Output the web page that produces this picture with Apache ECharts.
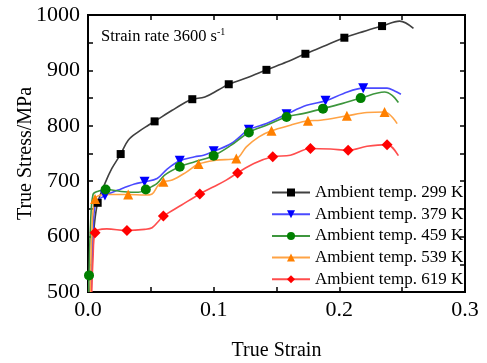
<!DOCTYPE html>
<html>
<head>
<meta charset="utf-8">
<script src="https://cdn.jsdelivr.net/npm/echarts@6/dist/echarts.min.js"></script>
<style>
  html, body { margin: 0; padding: 0; background: #fff; }
  #chart { width: 487px; height: 363px; }
</style>
</head>
<body>
<div id="chart"></div>
<script>
// curves: [strain, stress]; marks = indices that carry a symbol
const names = [
  'Ambient temp. 299 K',
  'Ambient temp. 379 K',
  'Ambient temp. 459 K',
  'Ambient temp. 539 K',
  'Ambient temp. 619 K'
]
const curve299 = [
  [0.0015, 500], [0.003, 560], [0.005, 620], [0.0077, 661], [0.0135, 696], [0.019, 723],
  [0.026, 749], [0.032, 774], [0.040, 789], [0.048, 801], [0.053, 808], [0.067, 828],
  [0.078, 843], [0.083, 848], [0.093, 852], [0.104, 865], [0.112, 875], [0.127, 887],
  [0.142, 901], [0.158, 915], [0.173, 930], [0.187, 943], [0.204, 959], [0.219, 970],
  [0.234, 980], [0.248, 989], [0.259, 976]
]
const marks299 = [3, 6, 10, 13, 16, 18, 20, 22, 24]
const curve379 = [
  [0.0025, 500], [0.004, 600], [0.006, 660], [0.0135, 674], [0.024, 684], [0.037, 695],
  [0.045, 699], [0.055, 705], [0.063, 722], [0.073, 737], [0.085, 744], [0.092, 747],
  [0.100, 754], [0.114, 768], [0.128, 793], [0.142, 804], [0.158, 821], [0.174, 837],
  [0.189, 845], [0.203, 858], [0.219, 868], [0.238, 868], [0.244, 863], [0.249, 857]
]
const marks379 = [3, 6, 9, 12, 14, 16, 18, 20]
const curve459 = [
  [0.0005, 500], [0.0008, 530], [0.002, 620], [0.004, 676], [0.008, 682], [0.014, 685],
  [0.029, 681], [0.040, 680], [0.046, 685], [0.055, 696], [0.061, 711], [0.073, 726],
  [0.085, 735], [0.100, 746], [0.114, 765], [0.128, 788], [0.142, 801], [0.158, 816],
  [0.171, 822], [0.187, 831], [0.202, 840], [0.217, 850], [0.236, 861], [0.242, 855],
  [0.247, 842]
]
const marks459 = [1, 5, 8, 11, 13, 15, 17, 19, 21]
const curve539 = [
  [0.002, 500], [0.003, 600], [0.0056, 668], [0.015, 676], [0.032, 676], [0.045, 675],
  [0.051, 677], [0.056, 693], [0.060, 699], [0.067, 702], [0.078, 716], [0.088, 731],
  [0.102, 738], [0.118, 741], [0.126, 762], [0.136, 780], [0.146, 791], [0.161, 801],
  [0.175, 809], [0.185, 810], [0.206, 818], [0.222, 824], [0.236, 825], [0.246, 804]
]
const marks539 = [2, 4, 8, 11, 13, 16, 18, 20, 22]
const curve619 = [
  [0.003, 500], [0.004, 560], [0.0056, 607], [0.015, 614], [0.031, 611], [0.045, 613],
  [0.051, 616], [0.057, 630], [0.060, 637], [0.0745, 657], [0.089, 677], [0.100, 690],
  [0.110, 702], [0.119, 715], [0.132, 732], [0.147, 744], [0.161, 747], [0.177, 759],
  [0.193, 758], [0.207, 756], [0.222, 763], [0.238, 766], [0.247, 746]
]
const marks619 = [2, 4, 8, 10, 13, 15, 17, 19, 21]

// axis ranges: min, max, tick step (labels only every other tick)
const xTicks = [0, 0.3, 0.05]
const yTicks = [500, 1000, 50]

const serif = '"Liberation Serif", "DejaVu Serif", serif'

function withMarks (pts, marks) {
  return pts.map((p, i) => marks.includes(i) ? { value: p } : { value: p, symbol: 'none' })
}

function makeSeries (name, pts, marks, lineColor, markColor, symbol, size, rotate) {
  return {
    name: name,
    type: 'line',
    smooth: 0.35,
    showAllSymbol: true,
    symbol: symbol,
    symbolSize: size,
    symbolRotate: rotate || 0,
    lineStyle: { color: lineColor, width: 1.6 },
    itemStyle: { color: markColor },
    emphasis: { disabled: true },
    data: withMarks(pts, marks)
  }
}

const chart = echarts.init(document.getElementById('chart'))

const lineBlack = { show: true, onZero: false, lineStyle: { color: '#000', width: 2 } }
const tickIn = { show: true, inside: true, length: 5, lineStyle: { color: '#000', width: 1.5 } }

const option = {
  animation: false,
  backgroundColor: '#fff',
  textStyle: { fontFamily: serif },
  grid: {
    left: 88, right: 22, top: 15, bottom: 71,
    outerBoundsMode: 'none',
    containLabel: false,
    show: true,
    borderWidth: 2,
    borderColor: '#000'
  },
  graphic: [{
    type: 'text',
    left: 101,
    top: 27,
    style: {
      text: '{a|Strain rate 3600 s}{b|-1}',
      rich: {
        a: { fontFamily: serif, fontSize: 16.5, fill: '#000', verticalAlign: 'bottom' },
        b: { fontFamily: serif, fontSize: 10, fill: '#000', padding: [0, 0, 8, 0], verticalAlign: 'bottom' }
      }
    }
  }],
  legend: {
    orient: 'vertical',
    left: 266,
    top: 179,
    itemWidth: 38,
    itemHeight: 10,
    itemGap: 4.7,
    textStyle: { fontFamily: serif, fontSize: 17, color: '#000', lineHeight: 17 },
    data: names
  },
  xAxis: [{
    type: 'value',
    min: xTicks[0],
    max: xTicks[1],
    interval: xTicks[2],
    name: 'True Strain',
    nameLocation: 'middle',
    nameGap: 49,
    nameMoveOverlap: false,
    nameTextStyle: { fontFamily: serif, fontSize: 20, color: '#000' },
    axisLine: lineBlack,
    axisTick: tickIn,
    splitLine: { show: false },
    axisLabel: {
      fontFamily: serif, fontSize: 22, color: '#000', margin: 7,
      formatter: v => (Math.round(v * 100) % 10 === 0 ? v.toFixed(1) : '')
    }
  }, {
    type: 'value',
    position: 'top',
    min: xTicks[0],
    max: xTicks[1],
    interval: xTicks[2],
    nameMoveOverlap: false,
    axisLine: lineBlack,
    axisTick: tickIn,
    splitLine: { show: false },
    axisLabel: { show: false }
  }],
  yAxis: [{
    type: 'value',
    min: yTicks[0],
    max: yTicks[1],
    interval: yTicks[2],
    name: 'True Stress/MPa',
    nameLocation: 'middle',
    nameGap: 52,
    nameMoveOverlap: false,
    nameTextStyle: { fontFamily: serif, fontSize: 20, color: '#000' },
    axisLine: lineBlack,
    axisTick: tickIn,
    splitLine: { show: false },
    axisLabel: {
      fontFamily: serif, fontSize: 22, color: '#000', margin: 8,
      formatter: v => (v % 100 === 0 ? String(v) : '')
    }
  }, {
    type: 'value',
    position: 'right',
    min: yTicks[0],
    max: yTicks[1],
    interval: yTicks[2],
    nameMoveOverlap: false,
    axisLine: lineBlack,
    axisTick: tickIn,
    splitLine: { show: false },
    axisLabel: { show: false }
  }],
  series: [
    makeSeries(names[0], curve299, marks299, '#404040', '#000000', 'rect', 8),
    makeSeries(names[1], curve379, marks379, '#4a4aff', '#0000ff', 'triangle', 10, 180),
    makeSeries(names[2], curve459, marks459, '#3d963d', '#008000', 'circle', 10),
    makeSeries(names[3], curve539, marks539, '#ffa345', '#ff8000', 'triangle', 10),
    makeSeries(names[4], curve619, marks619, '#ff4d4d', '#ff0000', 'diamond', 11)
  ]
}

chart.setOption(option)
</script>
</body>
</html>
